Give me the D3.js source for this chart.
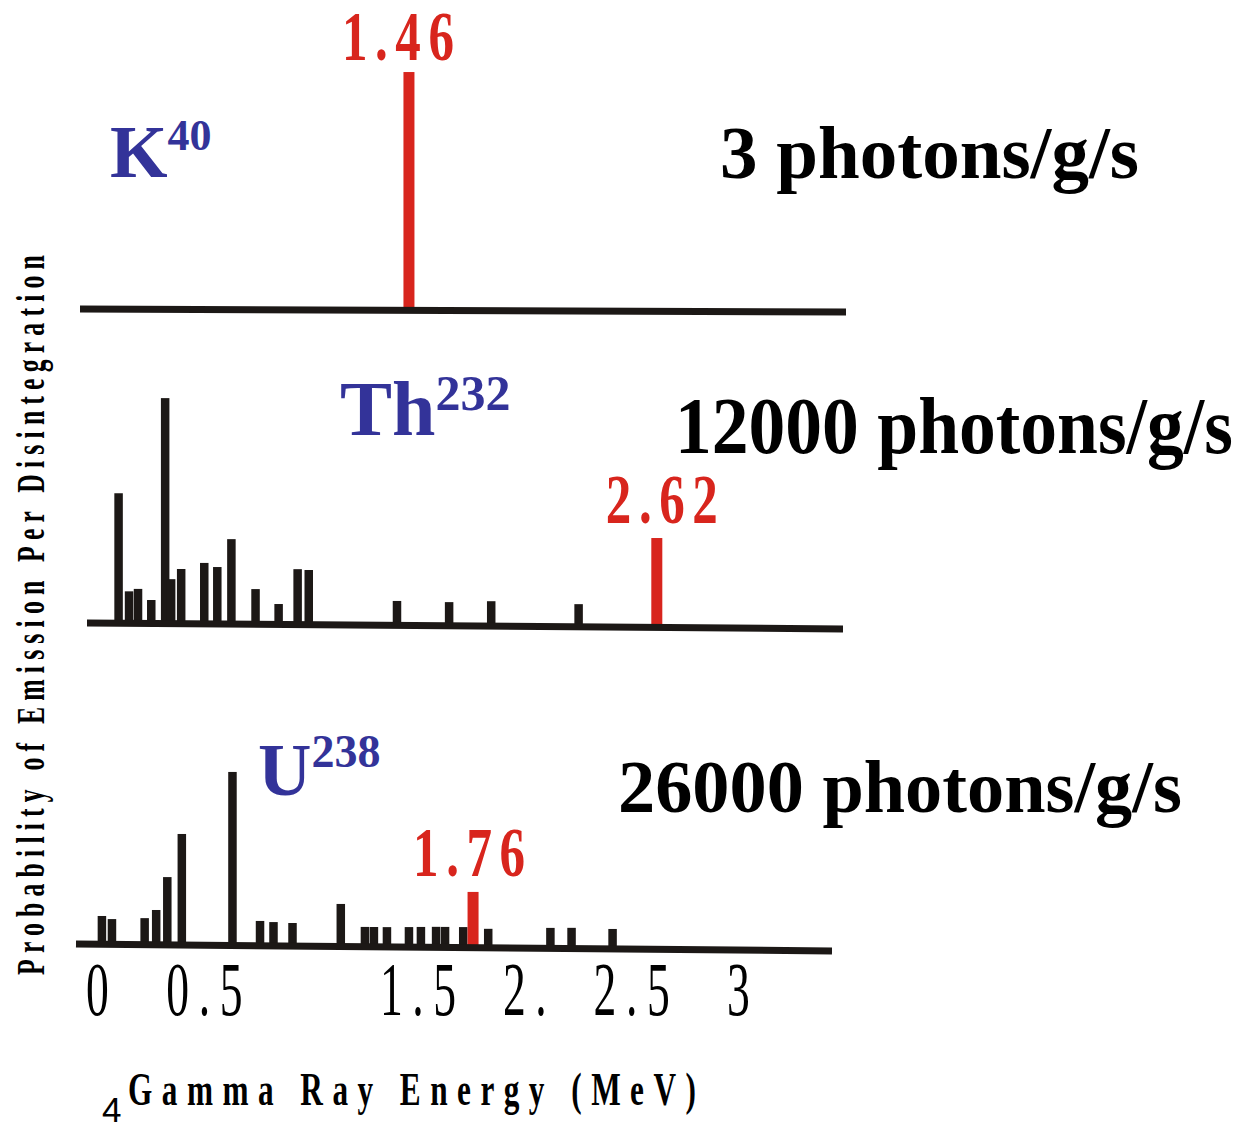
<!DOCTYPE html>
<html>
<head>
<meta charset="utf-8">
<script src="https://cdn.jsdelivr.net/npm/d3@7"></script>
<style>
	html, body { margin: 0; padding: 0; background: #fff; }
	svg { display: block; }
</style>
</head>
<body>
<svg id="chart" width="1244" height="1128"></svg>
<script>
/*
	gamma ray lines of the three natural emitters, energy in MeV,
	probability in relative units
 */
var thEnergy = [0.101, 0.150, 0.192, 0.254, 0.319, 0.347, 0.394, 0.502, 0.563, 0.629,
	0.742, 0.850, 0.939, 0.991, 1.404, 1.648, 1.845, 2.254];
var thProb = [52, 12.8, 13.8, 9.4, 90.2, 17.8, 21.9, 24.4, 22.8, 34,
	14.1, 8.2, 22.2, 21.9, 9.8, 9.5, 10, 9.1];

var uEnergy = [0.023, 0.070, 0.223, 0.277, 0.329, 0.397, 0.634, 0.763, 0.826, 0.915,
	1.141, 1.254, 1.296, 1.357, 1.460, 1.516, 1.587, 1.629, 1.714, 1.831, 2.122, 2.221, 2.413];
var uProb = [11.3, 10.1, 10.6, 13.9, 27.1, 44.4, 69.4, 9.9, 9.5, 9.2,
	17, 7.9, 7.9, 7.9, 8.0, 8.1, 8.2, 8.2, 8.2, 7.6, 8.2, 8.3, 8.0];

// the marked line of each emitter: K40, Th232, U238
var peakEnergy = [1.46, 2.62, 1.76];
var peakProb = [95.3, 35.8, 22.3];
var peakLabels = ['1.46', '2.62', '1.76'];

var isotopes = ['K', 'Th', 'U'];
var massNumbers = ['40', '232', '238'];
var rates = ['3 photons/g/s', '12000 photons/g/s', '26000 photons/g/s'];

var tickValues = [0, 0.5, 1.5, 2, 2.5, 3];
var tickLabels = ['0', '0.5', '1.5', '2.', '2.5', '3'];

var serif = '"Liberation Serif", "Times New Roman", serif',
	red = '#d8251d',
	blue = '#333399',
	ink = '#1c1816';

var svg = d3.select('#chart');

var x = d3.scaleLinear().domain([0, 3]).range([97, 738]);
// bar height in px for a probability value
var h = d3.scaleLinear().domain([0, 100]).range([0, 250]);

function zip(es, ps) {
	return es.map(function(e, i) { return { e: e, p: ps[i] }; });
}

// panel layout: baseline ends, label spots
var panels = [
	{ bars: [], xs: [80, 846], ys: [309, 312], labelDx: -11, labelY: 60,
		iso: { x: 110, y: 177, size: 74, sup: 44, supDy: -27 },
		rate: { x: 720, y: 178, size: 74, w: 419 } },
	{ bars: zip(thEnergy, thProb), xs: [87, 843], ys: [623, 629], labelDx: 5, labelY: 523,
		iso: { x: 340, y: 435, size: 78, sup: 50, supDy: -25 },
		rate: { x: 675, y: 453, size: 80, w: 558 } },
	{ bars: zip(uEnergy, uProb), xs: [76, 832], ys: [944, 951], labelDx: -4, labelY: 876,
		iso: { x: 258, y: 795, size: 74, sup: 46, supDy: -28 },
		rate: { x: 618, y: 812, size: 74, w: 564 } }
];

// condensed, letter-spaced text fitted to a width
function spaced(g, o) {
	var t = g.append('text')
		.attr('font-family', o.family || serif)
		.attr('font-size', o.size)
		.attr('font-weight', o.weight || 'bold')
		.attr('fill', o.fill || '#000')
		.text(o.text);
	var len = t.node().getComputedTextLength();
	var ls = o.sx ? (o.width / o.sx - len) / Math.max(1, o.text.length - 1) : 0;
	var sx = o.sx || o.width / len;
	t.attr('letter-spacing', ls);
	var left = o.center ? o.x - o.width / 2 : o.x;
	t.attr('transform', 'translate(' + left + ',' + o.y + ') rotate(' + (o.rotate || 0) + ') scale(' + sx + ',1)');
	return t;
}

panels.forEach(function(p, i) {
	var g = svg.append('g').attr('class', 'panel');
	var base = d3.scaleLinear().domain(p.xs).range(p.ys);

	g.selectAll('.line').data(p.bars).enter().append('rect')
		.attr('class', 'line')
		.attr('x', function(d) { return x(d.e) - 4.25; })
		.attr('width', 8.5)
		.attr('y', function(d) { return base(x(d.e)) - h(d.p); })
		.attr('height', function(d) { return h(d.p); })
		.attr('fill', ink);

	var pk = { e: peakEnergy[i], p: peakProb[i] };
	g.append('rect')
		.attr('x', x(pk.e) - 5.5)
		.attr('width', 11)
		.attr('y', base(x(pk.e)) - h(pk.p))
		.attr('height', h(pk.p))
		.attr('fill', red);

	g.append('line')
		.attr('x1', p.xs[0]).attr('y1', p.ys[0])
		.attr('x2', p.xs[1]).attr('y2', p.ys[1])
		.attr('stroke', ink)
		.attr('stroke-width', 7);

	spaced(g, { text: peakLabels[i], x: x(pk.e) + p.labelDx, y: p.labelY, size: 69,
		sx: 0.74, width: 112, center: true, fill: red });

	var iso = g.append('text')
		.attr('x', p.iso.x).attr('y', p.iso.y)
		.attr('font-family', serif)
		.attr('font-weight', 'bold')
		.attr('fill', blue);
	iso.append('tspan').attr('font-size', p.iso.size).text(isotopes[i]);
	iso.append('tspan').attr('font-size', p.iso.sup).attr('dy', p.iso.supDy).text(massNumbers[i]);

	// photon rate, squeezed to its width without extra spacing
	spaced(g, { text: rates[i], x: p.rate.x, y: p.rate.y, size: p.rate.size, width: p.rate.w });
});

// energy axis, labels only
var axis = d3.axisBottom(x)
	.tickValues(tickValues)
	.tickFormat(function(d, i) { return tickLabels[i]; })
	.tickSize(0)
	.tickPadding(0);

svg.append('g')
	.attr('transform', 'translate(0,1015)')
	.call(axis)
	.call(function(g) { g.select('.domain').remove(); })
	.selectAll('text')
	.attr('dy', 0)
	.attr('y', 0)
	.attr('dx', 8)
	.attr('font-family', serif)
	.attr('font-size', 76)
	.attr('fill', '#000')
	.attr('letter-spacing', 16)
	.attr('transform', 'scale(0.6,1)');

spaced(svg, { text: 'Gamma Ray Energy (MeV)', x: 128, y: 1105, size: 46, sx: 0.68, width: 568 });

spaced(svg, { text: 'Probability of Emission Per Disintegration', x: 44, y: 975, size: 39,
	sx: 0.66, width: 720, rotate: -90 });

svg.append('text')
	.attr('x', 102).attr('y', 1122)
	.attr('font-family', '"Liberation Sans", Arial, sans-serif')
	.attr('font-size', 35)
	.attr('fill', '#000')
	.text('4');
</script>
</body>
</html>
